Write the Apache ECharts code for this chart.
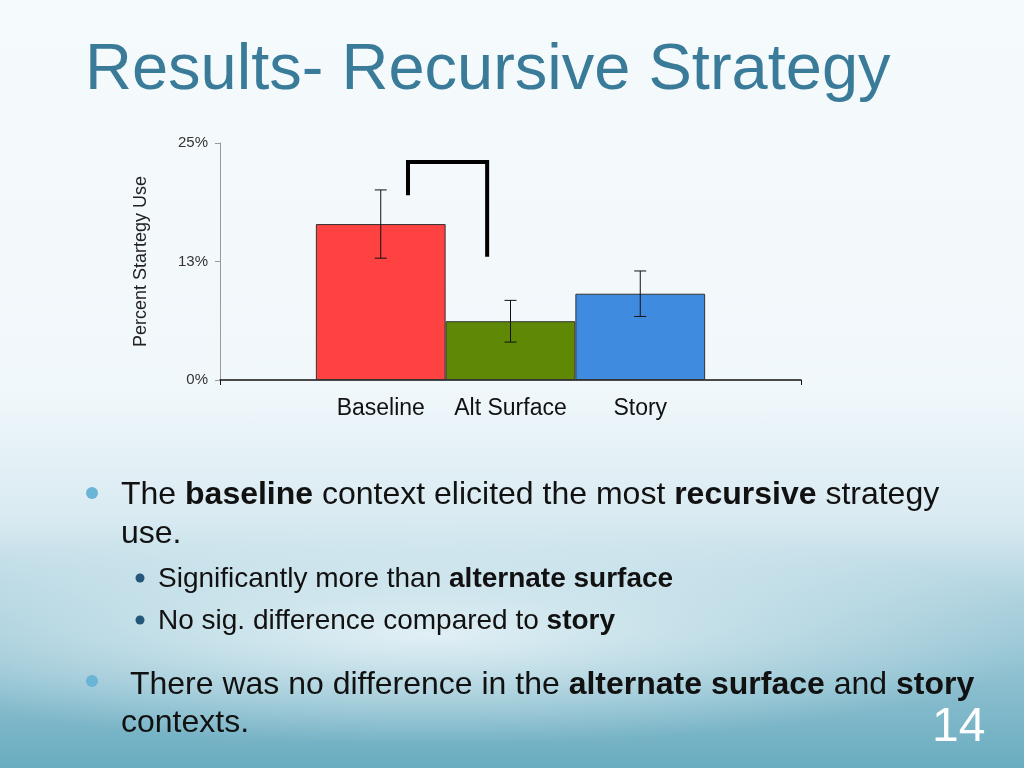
<!DOCTYPE html>
<html>
<head>
<meta charset="utf-8">
<script src="https://cdn.jsdelivr.net/npm/echarts@6/dist/echarts.min.js"></script>
<style>
  html, body { margin: 0; padding: 0; }
  body {
    width: 1024px; height: 768px; overflow: hidden;
    background:
      radial-gradient(ellipse 620px 110px at 430px 635px, rgba(236,246,250,0.85), rgba(236,246,250,0) 100%),
      linear-gradient(to bottom, #f5fafc 0%, #f1f8fb 50%, #d8eaf1 68%, #a6cedb 80%, #6aacc0 100%);
  }
  #chart { width: 1024px; height: 768px; }
</style>
</head>
<body>
<div id="chart"></div>
<script>
// data
var conditions = ['Baseline', 'Alt Surface', 'Story'];
var means = [16.45, 6.2, 9.1];
var errors = [3.6, 2.2, 2.4];
var barColors = ['#fe4141', '#5f8805', '#3f8be0'];
var yTicks = [0, 12.5, 25];
// significance bracket: top, left leg end, right leg end
var bracket = [23, 19.5, 13];

var font = '"Liberation Sans", Arial, sans-serif';
var chart = echarts.init(document.getElementById('chart'));

var catGap = 0.33;
function barOffset(api, i) {
  var band = api.size([1, 0])[0];
  var w = band * (1 - catGap) / conditions.length;
  return (i - (conditions.length - 1) / 2) * w;
}

var barSeries = conditions.map(function (name, i) {
  return {
    name: name,
    type: 'bar',
    barGap: '0%',
    barCategoryGap: '33%',
    data: [means[i]],
    itemStyle: { color: barColors[i], borderColor: '#333', borderWidth: 1 },
    label: {
      show: true,
      position: 'bottom',
      distance: 17,
      formatter: '{a}',
      color: '#111',
      fontSize: 23,
      fontFamily: font
    },
    silent: true
  };
});

var errSeries = {
  type: 'custom',
  silent: true,
  z: 5,
  data: conditions.map(function (c, i) { return [0, means[i], errors[i], i]; }),
  encode: { x: 0, y: 1 },
  renderItem: function (params, api) {
    var i = api.value(3);
    var hi = api.coord([0, api.value(1) + api.value(2)]);
    var lo = api.coord([0, api.value(1) - api.value(2)]);
    var x = hi[0] + barOffset(api, i);
    var cap = 6;
    var st = { stroke: '#111', lineWidth: 1 };
    return {
      type: 'group',
      children: [
        { type: 'line', shape: { x1: x, y1: hi[1], x2: x, y2: lo[1] }, style: st },
        { type: 'line', shape: { x1: x - cap, y1: hi[1], x2: x + cap, y2: hi[1] }, style: st },
        { type: 'line', shape: { x1: x - cap, y1: lo[1], x2: x + cap, y2: lo[1] }, style: st }
      ]
    };
  }
};

var bracketSeries = {
  type: 'custom',
  silent: true,
  z: 6,
  data: [[0, bracket[0], bracket[1], bracket[2]]],
  encode: { x: 0, y: 1 },
  renderItem: function (params, api) {
    var top = api.coord([0, api.value(1)]);
    var l = api.coord([0, api.value(2)]);
    var r = api.coord([0, api.value(3)]);
    var band = api.size([1, 0])[0];
    var w = band * (1 - catGap) / conditions.length;
    var xl = top[0] + barOffset(api, 0) + 0.21 * w;
    var xr = top[0] + barOffset(api, 1) - 0.18 * w;
    return {
      type: 'polyline',
      shape: { points: [[xl, l[1]], [xl, top[1]], [xr, top[1]], [xr, r[1]]] },
      style: { stroke: '#000', lineWidth: 4, fill: null }
    };
  }
};

function line(x, y, size, text, fill) {
  return {
    type: 'text', x: x, y: y,
    style: {
      text: text, fill: fill || '#111', font: size + 'px ' + font,
      verticalAlign: 'middle',
      rich: { b: { fontWeight: 'bold', fontSize: size, fontFamily: font, fill: '#111' } }
    }
  };
}

var option = {
  backgroundColor: 'transparent',
  animation: false,
  grid: { left: 220, right: 223, top: 143, bottom: 388 },
  xAxis: {
    type: 'category',
    data: ['Recursive'],
    axisLine: { lineStyle: { color: '#111', width: 1.5 } },
    axisTick: { show: true, length: 5, lineStyle: { color: '#111' } },
    axisLabel: { show: false }
  },
  yAxis: {
    type: 'value',
    min: 0, max: 25, interval: 12.5,
    name: 'Percent Startegy Use',
    nameLocation: 'middle',
    nameGap: 70,
    nameTextStyle: { fontSize: 18, color: '#222', fontFamily: font },
    axisLine: { show: true, lineStyle: { color: '#999' } },
    axisTick: { show: true, length: 5, lineStyle: { color: '#999' } },
    splitLine: { show: false },
    axisLabel: {
      fontSize: 15, color: '#333', fontFamily: font, margin: 12,
      formatter: function (v) { return Math.round(v) + '%'; }
    }
  },
  series: barSeries.concat([errSeries, bracketSeries]),
  graphic: [
    {
      type: 'text', x: 85, y: 71,
      style: { text: 'Results- Recursive Strategy', fill: '#3a7b99', font: '65px ' + font, verticalAlign: 'middle' }
    },
    { type: 'circle', shape: { cx: 92, cy: 493, r: 6 }, style: { fill: '#6ab4d6' } },
    line(121, 495, 32, 'The {b|baseline} context elicited the most {b|recursive} strategy'),
    line(121, 534, 32, 'use.'),
    { type: 'circle', shape: { cx: 140, cy: 578, r: 4.5 }, style: { fill: '#24577a' } },
    line(158, 579, 28, 'Significantly more than {b|alternate surface}'),
    { type: 'circle', shape: { cx: 140, cy: 620, r: 4.5 }, style: { fill: '#24577a' } },
    line(158, 621, 28, 'No sig. difference compared to {b|story}'),
    { type: 'circle', shape: { cx: 92, cy: 681, r: 6 }, style: { fill: '#6ab4d6' } },
    line(121, 685, 32, ' There was no difference in the {b|alternate surface} and {b|story}'),
    line(121, 723, 32, 'contexts.'),
    {
      type: 'text', x: 932, y: 728,
      style: { text: '14', fill: '#ffffff', font: '48px ' + font, verticalAlign: 'middle' }
    }
  ]
};

chart.setOption(option);
</script>
</body>
</html>
